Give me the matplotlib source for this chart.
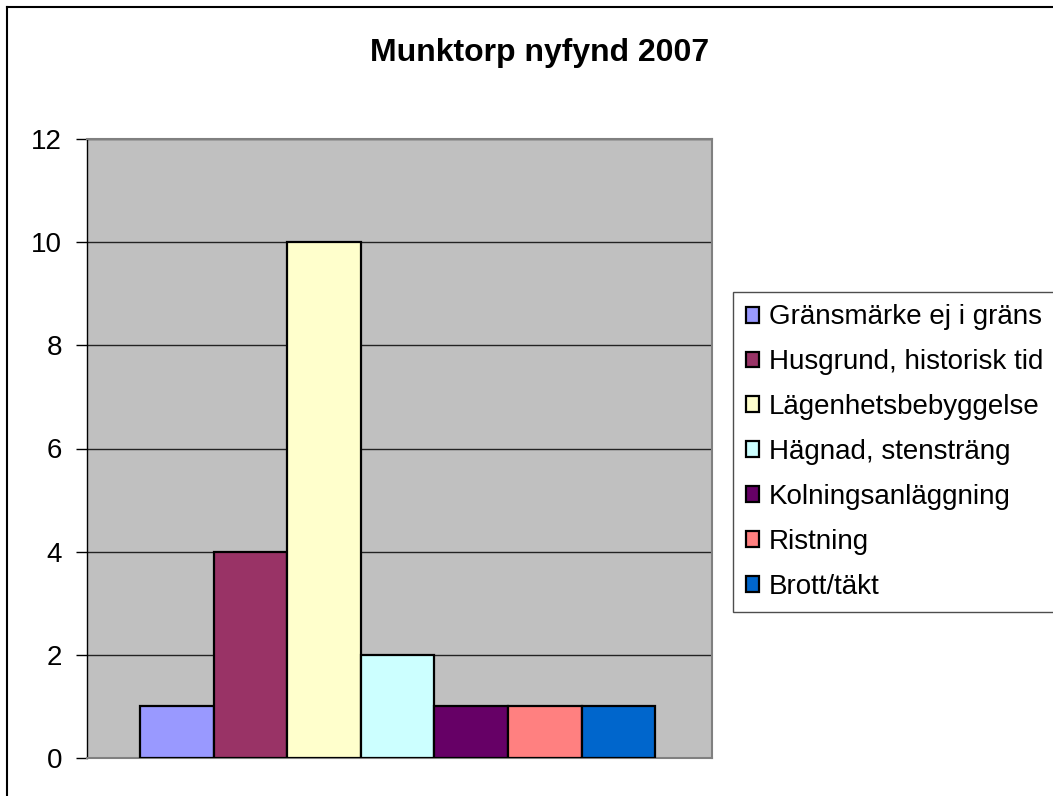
import matplotlib.pyplot as plt
from matplotlib.lines import Line2D

plt.rcParams['font.family'] = ['Liberation Sans', 'DejaVu Sans']

# data
labels = ["Gränsmärke ej i gräns", "Husgrund, historisk tid", "Lägenhetsbebyggelse",
          "Hägnad, stensträng", "Kolningsanläggning", "Ristning", "Brott/täkt"]
values = [1, 4, 10, 2, 1, 1, 1]
colors = ["#9999FF", "#993366", "#FFFFCC", "#CCFFFF", "#660066", "#FF8080", "#0066CC"]
yticks = [0, 2, 4, 6, 8, 10, 12]

W, H = 1053, 796
fig = plt.figure(figsize=(W / 100, H / 100), dpi=100)
ax = fig.add_axes([87 / W, 1 - 758 / H, (712 - 87) / W, (758 - 139) / H])
ax.set_facecolor("#C0C0C0")

for i in range(len(values)):
    ax.bar(i, values[i], width=1.0, color=colors[i], edgecolor="black",
           linewidth=1.6, label=labels[i], zorder=3)

ax.set_xlim(-0.5 - 0.72, len(values) - 0.5 + 0.77)
ax.set_ylim(0, 12)
ax.set_yticks(yticks)
ax.set_xticks([])
ax.yaxis.grid(True, color="#222222", linewidth=1.0, zorder=1)
ax.tick_params(axis="y", length=8, width=1, pad=10, labelsize=20)

for s in ["top", "right", "bottom"]:
    ax.spines[s].set_color("#808080")
    ax.spines[s].set_linewidth(1.5)
ax.spines["left"].set_color("black")
ax.spines["left"].set_linewidth(1)

fig.text(540 / W, 1 - 53 / H, "Munktorp nyfynd 2007", ha="center", va="center",
         fontsize=23, fontweight="bold")

leg = fig.legend(loc="upper left", bbox_to_anchor=(733 / W, 1 - 292 / H),
                 fontsize=20, frameon=True, fancybox=False, handlelength=0.5,
                 handleheight=0.5, handletextpad=0.35, labelspacing=0.68,
                 borderaxespad=0, borderpad=0.45)
leg.get_frame().set_edgecolor("#222222")
leg.get_frame().set_linewidth(1)

# outer chart border (top and left visible)
fig.add_artist(Line2D([7 / W, 7 / W], [0, 1 - 7 / H], transform=fig.transFigure,
                      color="black", linewidth=1.5))
fig.add_artist(Line2D([7 / W, 1], [1 - 7 / H, 1 - 7 / H], transform=fig.transFigure,
                      color="black", linewidth=1.5))

fig.savefig("out.png", dpi=100)
